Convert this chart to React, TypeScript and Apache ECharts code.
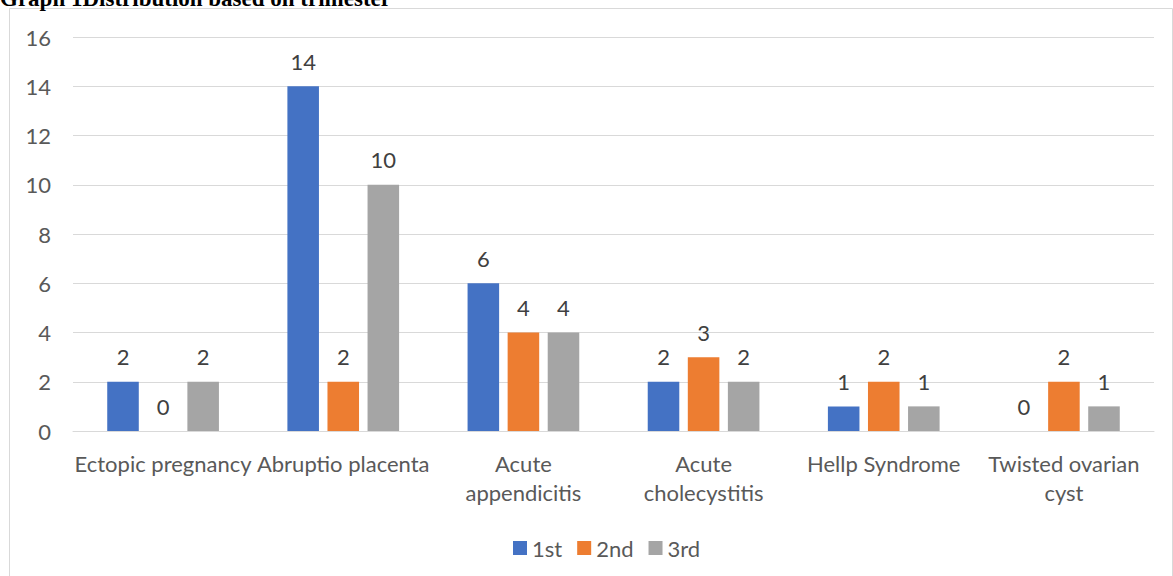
import React, { useEffect, useRef } from "react";
import * as echarts from "echarts";

const categories = [
  "Ectopic pregnancy",
  "Abruptio placenta",
  "Acute\nappendicitis",
  "Acute\ncholecystitis",
  "Hellp Syndrome",
  "Twisted ovarian\ncyst",
];
const seriesNames = ["1st", "2nd", "3rd"];
const first = [2, 14, 6, 2, 1, 0];
const second = [0, 2, 4, 3, 2, 2];
const third = [2, 10, 4, 2, 1, 1];
const colors = ["#4472C4", "#ED7D31", "#A5A5A5"];
const titleText = "Graph 1Distribution based on trimester";

const FONT = "Lato, Carlito, Calibri, sans-serif";

export default function App() {
  const ref = useRef<HTMLDivElement>(null);
  useEffect(() => {
    if (!ref.current) return;
    const chart = echarts.init(ref.current, undefined, { renderer: "svg" });
    const data = [first, second, third];
    chart.setOption({
      animation: false,
      backgroundColor: "#ffffff",
      textStyle: { fontFamily: FONT },
      graphic: [
        {
          type: "rect",
          shape: { x: 9.5, y: 8.5, width: 1163, height: 620 },
          style: { fill: "none", stroke: "#d9d9d9", lineWidth: 1 },
          silent: true,
          z: -1,
        },
        {
          type: "text",
          x: 0,
          y: 10,
          style: {
            text: titleText,
            font: "bold 23px 'Liberation Serif', 'Times New Roman', serif",
            fill: "#000000",
            textVerticalAlign: "bottom",
          },
        },
      ],
      legend: {
        data: seriesNames,
        left: 508,
        top: 532,
        icon: "rect",
        itemWidth: 14,
        itemHeight: 14,
        itemGap: 15,
        textStyle: { color: "#595959", fontSize: 22, fontFamily: FONT },
      },
      grid: { left: 73, right: 19, top: 37, bottom: 145, containLabel: false },
      xAxis: {
        type: "category",
        data: categories,
        axisLine: { lineStyle: { color: "#d9d9d9", width: 1 } },
        axisTick: { show: false },
        axisLabel: {
          interval: 0,
          color: "#595959",
          fontSize: 22,
          lineHeight: 29,
          margin: 18,
          fontFamily: FONT,
        },
      },
      yAxis: {
        type: "value",
        min: 0,
        max: 16,
        interval: 2,
        axisLine: { show: false },
        axisTick: { show: false },
        splitLine: { lineStyle: { color: "#d9d9d9", width: 1 } },
        axisLabel: { color: "#595959", fontSize: 22, margin: 22, fontFamily: FONT },
      },
      series: seriesNames.map((name, i) => ({
        name,
        type: "bar",
        data: data[i],
        barGap: "27%",
        barCategoryGap: "38%",
        itemStyle: { color: colors[i] },
        label: {
          show: true,
          position: "top",
          distance: 14,
          color: "#404040",
          fontSize: 22,
          fontFamily: FONT,
        },
      })),
    });
    return () => chart.dispose();
  }, []);
  return (
    <div
      ref={ref}
      style={{ position: "absolute", left: 0, top: 0, width: 1173, height: 576 }}
    />
  );
}
